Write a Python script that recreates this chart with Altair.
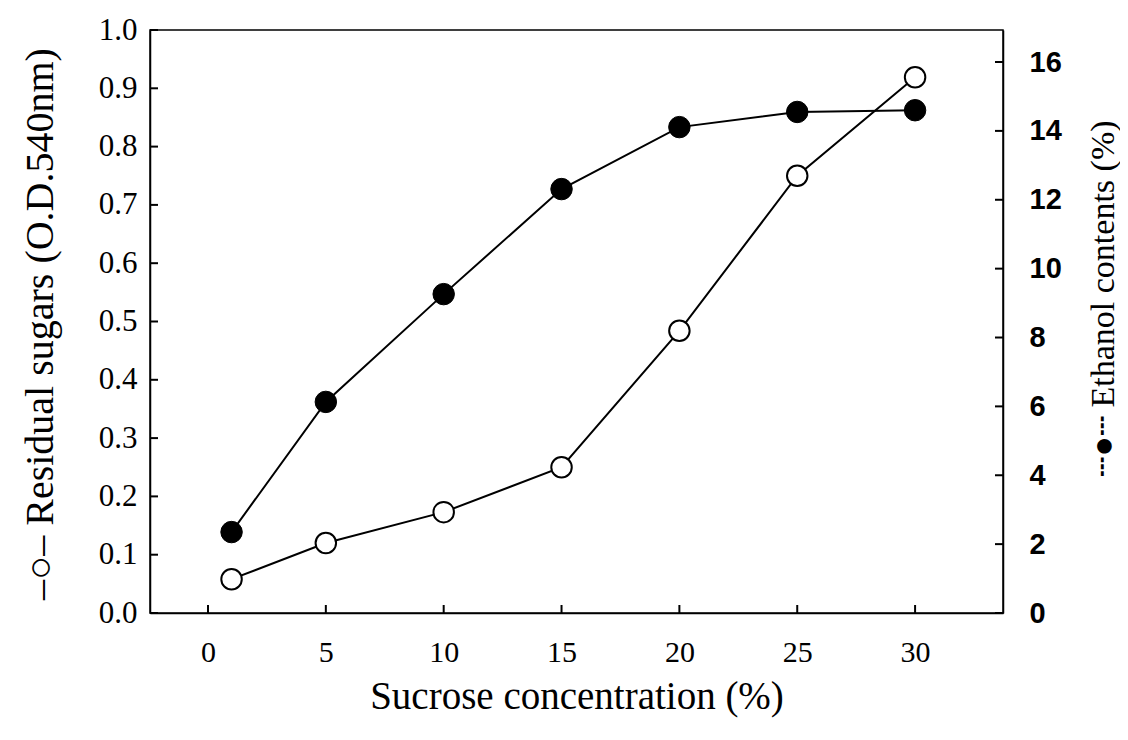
import altair as alt
import pandas as pd

# Data
sucrose = [1, 5, 10, 15, 20, 25, 30]
residual_sugars = [0.058, 0.12, 0.173, 0.25, 0.484, 0.75, 0.919]
ethanol = [2.35, 6.13, 9.26, 12.31, 14.11, 14.55, 14.6]

x_ticks = [0, 5, 10, 15, 20, 25, 30]
left_ticks = [round(i * 0.1, 1) for i in range(11)]
right_ticks = [0, 2, 4, 6, 8, 10, 12, 14, 16]

W, H = 853, 583

sugar_df = pd.DataFrame({"x": sucrose, "v": residual_sugars})
eth_df = pd.DataFrame({"x": sucrose, "v": ethanol})
xt_df = pd.DataFrame({"x": x_ticks})
lt_df = pd.DataFrame({"v": left_ticks})
rt_df = pd.DataFrame({"v": right_ticks})

serif = "Liberation Serif"

xscale = alt.Scale(domain=[-2.46, 33.73], nice=False, zero=False)
xaxis = alt.Axis(
    values=x_ticks, ticks=False, grid=False, domainColor="black", domainWidth=1.5,
    labelFont=serif, labelFontSize=30, labelColor="black", labelPadding=24,
    title="Sucrose concentration (%)", titleFont=serif, titleFontSize=39,
    titleFontWeight="normal", titleColor="black", titlePadding=10,
)
lscale = alt.Scale(domain=[0, 1], nice=False, zero=False)
laxis = alt.Axis(
    orient="left", values=left_ticks, format=".1f", ticks=False, grid=False,
    domainColor="black", domainWidth=1.5,
    labelFont=serif, labelFontSize=31, labelColor="black", labelPadding=13,
    title="–○– Residual sugars (O.D.540nm)", titleFont=serif, titleFontSize=40,
    titleFontWeight="normal", titleColor="black",
    titleX=-110, titleY=H / 2 + 2, titleAngle=270,
    titleBaseline="middle", titleAlign="center",
)
rscale = alt.Scale(domain=[0, 16.93], nice=False, zero=False)
raxis = alt.Axis(
    orient="right", values=right_ticks, ticks=False, grid=False,
    domainColor="black", domainWidth=1.5,
    labelFont="Liberation Sans", labelFontSize=29, labelFontWeight="bold",
    labelColor="black", labelPadding=26,
    title="┄●┄ Ethanol contents (%)", titleFont=serif, titleFontSize=34,
    titleFontWeight="normal", titleColor="black",
    titleX=100, titleY=268, titleAngle=270,
    titleBaseline="middle", titleAlign="center",
)

X = alt.X("x:Q", scale=xscale, axis=xaxis)
YL = alt.Y("v:Q", scale=lscale, axis=laxis)
YR = alt.Y("v:Q", scale=rscale, axis=raxis)

sugar_line = alt.Chart(sugar_df).mark_line(
    color="black", strokeWidth=2
).encode(x=X, y=YL)
sugar_pts = alt.Chart(sugar_df).mark_point(
    shape="circle", filled=True, fill="white", stroke="black", strokeWidth=2,
    size=420, opacity=1
).encode(x=X, y=YL)
x_tick_marks = alt.Chart(xt_df).mark_tick(
    orient="vertical", color="black", thickness=2, size=8, opacity=1
).encode(x=X, y=alt.value(H - 4))
left_tick_marks = alt.Chart(lt_df).mark_tick(
    orient="horizontal", color="black", thickness=2, size=8, opacity=1
).encode(y=YL, x=alt.value(4))

eth_line = alt.Chart(eth_df).mark_line(
    color="black", strokeWidth=2
).encode(x=X, y=YR)
eth_pts = alt.Chart(eth_df).mark_point(
    shape="circle", filled=True, fill="black", stroke="black", strokeWidth=1,
    size=460, opacity=1
).encode(x=X, y=YR)
right_tick_marks = alt.Chart(rt_df).mark_tick(
    orient="horizontal", color="black", thickness=2, size=8, opacity=1
).encode(y=YR, x=alt.value(W - 4))

left_layer = alt.layer(sugar_line, x_tick_marks, left_tick_marks, sugar_pts)
right_layer = alt.layer(eth_line, right_tick_marks, eth_pts)

chart = (
    alt.layer(left_layer, right_layer)
    .resolve_scale(y="independent")
    .properties(
        width=W, height=H,
        autosize=alt.AutoSizeParams(type="none"),
        padding={"left": 142, "top": 22, "right": 117, "bottom": 119},
        background="white",
    )
    .configure_view(stroke="black", strokeWidth=1.5)
)

chart.save("out.html", embed_options={"renderer": "svg", "actions": False})
